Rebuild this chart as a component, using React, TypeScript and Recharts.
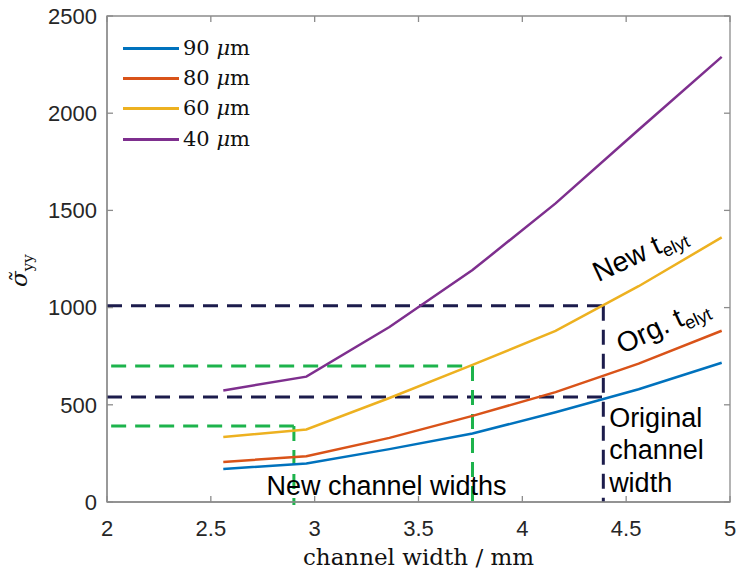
import React from 'react';
import {
  LineChart,
  Line,
  XAxis,
  YAxis,
  ReferenceLine,
  ReferenceArea,
  ReferenceDot,
} from 'recharts';

// channel width / mm
const widths = [2.56, 2.96, 3.36, 3.76, 4.16, 4.56, 4.96];
// sigma_yy per electrolyte thickness
const s90 = [170, 198, 272, 352, 462, 580, 716];
const s80 = [206, 235, 330, 443, 565, 712, 881];
const s60 = [334, 373, 535, 705, 880, 1110, 1361];
const s40 = [574, 645, 900, 1193, 1536, 1915, 2290];

const xTicks = [2, 2.5, 3, 3.5, 4, 4.5, 5];
const yTicks = [0, 500, 1000, 1500, 2000, 2500];

// guide lines
const origWidth = 4.39;
const newWidths = [2.9, 3.76];
const navyLevels = [1010, 540];
const greenLevels = [391, 700];

const series = [
  { key: 's90', label: '90', color: '#0072BD' },
  { key: 's80', label: '80', color: '#D95319' },
  { key: 's60', label: '60', color: '#EDB120' },
  { key: 's40', label: '40', color: '#7E2F8E' },
];

const data = widths.map((w, i) => ({ w, s90: s90[i], s80: s80[i], s60: s60[i], s40: s40[i] }));

const NAVY = '#1c1c4c';
const GREEN = '#1db34c';
const AXIS = '#8c8c8c';
const SANS = '"Liberation Sans", Arial, sans-serif';
const SERIF = '"DejaVu Serif", serif';

// inward tick length for the top / right frame, in data units (~6px)
const TICK_DX = 0.029;
const TICK_DY = 31;

const fmtX = (v: number) => String(v);

const LegendBox = () => (
  <div style={{ position: 'absolute', left: 123, top: 33, fontFamily: SERIF, fontSize: 21, color: '#111', lineHeight: 1 }}>
    {series.map((s) => (
      <div key={s.key} style={{ display: 'flex', alignItems: 'center', height: 30.3 }}>
        <span style={{ display: 'inline-block', width: 56, height: 0, borderTop: `3px solid ${s.color}`, marginRight: 4 }} />
        <span>
          {s.label} <i>μ</i>m
        </span>
      </div>
    ))}
  </div>
);

const RotLabel = ({ viewBox, main, sub, rot }: any) => {
  const { x, y } = viewBox;
  return (
    <text x={x} y={y} fontFamily={SANS} fontSize={28} fill="#000" transform={`rotate(${rot}, ${x}, ${y})`}>
      {main}
      <tspan fontSize={18} dy={6}>{sub}</tspan>
    </text>
  );
};

const MultiLabel = ({ viewBox, lines }: any) => {
  const { x, y } = viewBox;
  return (
    <text x={x} y={y} fontFamily={SANS} fontSize={27} fill="#000">
      {lines.map((ln: string, i: number) => (
        <tspan key={i} x={x} dy={i === 0 ? 0 : 32.5}>{ln}</tspan>
      ))}
    </text>
  );
};

const CenterLabel = ({ viewBox, text }: any) => {
  const { x, y } = viewBox;
  return (
    <text x={x} y={y} fontFamily={SANS} fontSize={27} fill="#000" textAnchor="middle">
      {text}
    </text>
  );
};

const dash = { stroke: NAVY, strokeWidth: 3, strokeDasharray: '15 9' };

export default function App() {
  return (
    <div style={{ position: 'absolute', left: 0, top: 0, width: 738, height: 574, background: '#fff' }}>
      <LineChart width={738} height={574} data={data} margin={{ top: 16, right: 8, left: 0, bottom: 0 }}>
        <XAxis
          dataKey="w"
          type="number"
          domain={[2, 5]}
          ticks={xTicks}
          tickFormatter={fmtX}
          height={72}
          stroke={AXIS}
          strokeWidth={1.3}
          tickSize={-6}
          tickMargin={24}
          tick={{ fill: '#262626', fontFamily: SANS, fontSize: 22 }}
          label={{ value: 'channel width / mm', position: 'insideBottom', offset: 9, style: { fontFamily: SERIF, fontSize: 23, fill: '#111' } }}
        />
        <YAxis
          type="number"
          domain={[0, 2500]}
          ticks={yTicks}
          width={107}
          stroke={AXIS}
          strokeWidth={1.3}
          tickSize={-6}
          tickMargin={16}
          tick={{ fill: '#262626', fontFamily: SANS, fontSize: 22 }}
          label={{
            content: () => (
              <text x={27} y={287} fontFamily={SERIF} fill="#111" transform="rotate(-90, 27, 287)">
                <tspan fontSize={23} fontStyle="italic">σ̃</tspan>
                <tspan fontSize={15} dy={6}>yy</tspan>
              </text>
            ),
          }}
        />

        {/* box frame with inward ticks on top and right */}
        <ReferenceArea x1={2} x2={5} y1={0} y2={2500} fill="none" stroke={AXIS} strokeWidth={1.3} ifOverflow="visible" />
        {xTicks.map((t) => (
          <ReferenceLine key={`tx${t}`} segment={[{ x: t, y: 2500 - TICK_DY }, { x: t, y: 2499.9 }]} stroke={AXIS} strokeWidth={1.3} ifOverflow="visible" />
        ))}
        {yTicks.map((t) => (
          <ReferenceLine key={`ty${t}`} segment={[{ x: 5 - TICK_DX, y: t }, { x: 4.9999, y: t }]} stroke={AXIS} strokeWidth={1.3} ifOverflow="visible" />
        ))}

        {navyLevels.map((lv) => (
          <ReferenceLine key={`n${lv}`} segment={[{ x: 2, y: lv }, { x: origWidth, y: lv }]} {...dash} />
        ))}
        <ReferenceLine segment={[{ x: origWidth, y: navyLevels[0] }, { x: origWidth, y: 0 }]} {...dash} />
        {greenLevels.map((lv, i) => (
          <ReferenceLine key={`g${lv}`} segment={[{ x: 2.02, y: lv }, { x: newWidths[i], y: lv }]} {...dash} stroke={GREEN} />
        ))}
        {greenLevels.map((lv, i) => (
          <ReferenceLine key={`gv${lv}`} segment={[{ x: newWidths[i], y: lv }, { x: newWidths[i], y: -15 }]} {...dash} stroke={GREEN} ifOverflow="visible" />
        ))}

        {series.map((s) => (
          <Line key={s.key} dataKey={s.key} name={s.label} stroke={s.color} strokeWidth={2.5} dot={false} isAnimationActive={false} type="linear" />
        ))}

        <ReferenceDot x={3.346} y={36} r={0} fill="none" stroke="none" label={<CenterLabel text="New channel widths" />} />
        <ReferenceDot x={4.418} y={386} r={0} fill="none" stroke="none" label={<MultiLabel lines={['Original', 'channel', 'width']} />} />
        <ReferenceDot x={4.366} y={1130} r={0} fill="none" stroke="none" label={<RotLabel main="New t" sub="elyt" rot={-25} />} />
        <ReferenceDot x={4.48} y={760} r={0} fill="none" stroke="none" label={<RotLabel main="Org. t" sub="elyt" rot={-25} />} />
      </LineChart>
      <LegendBox />
    </div>
  );
}
